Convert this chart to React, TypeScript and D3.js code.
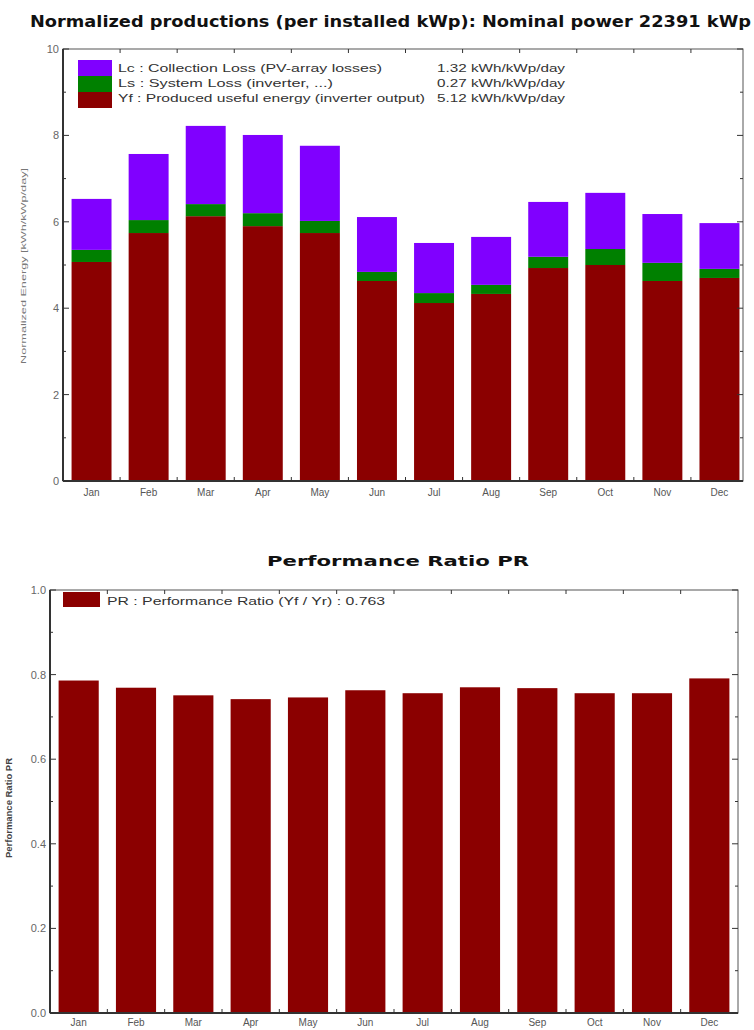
import React from 'react';
import * as d3 from 'd3';

const months = ['Jan', 'Feb', 'Mar', 'Apr', 'May', 'Jun', 'Jul', 'Aug', 'Sep', 'Oct', 'Nov', 'Dec'];

// normalized energies, kWh/kWp/day
const yfValues = [5.07, 5.74, 6.13, 5.9, 5.74, 4.63, 4.12, 4.33, 4.93, 5.0, 4.63, 4.7];
const lsValues = [0.28, 0.3, 0.28, 0.3, 0.28, 0.21, 0.23, 0.21, 0.26, 0.37, 0.42, 0.21];
const lcValues = [1.18, 1.53, 1.81, 1.81, 1.74, 1.27, 1.16, 1.11, 1.27, 1.3, 1.13, 1.06];

const prValues = [0.786, 0.769, 0.751, 0.742, 0.746, 0.763, 0.756, 0.77, 0.768, 0.756, 0.756, 0.791];

const energyLegend = [
  { key: 'lc', label: 'Lc : Collection Loss (PV-array losses)', value: '1.32 kWh/kWp/day', color: '#8000ff', w: 264 },
  { key: 'ls', label: 'Ls : System Loss  (inverter, ...)', value: '0.27 kWh/kWp/day', color: '#008000', w: 215 },
  { key: 'yf', label: 'Yf : Produced useful energy  (inverter output)', value: '5.12 kWh/kWp/day', color: '#8b0000', w: 307 },
];
const prLegend = 'PR : Performance Ratio (Yf / Yr) :  0.763';

const energyTicks = [0, 2, 4, 6, 8, 10];
const prTicks = [0, 0.2, 0.4, 0.6, 0.8, 1.0];

const W = 754;
const H = 1030;
const axisColor = '#333';
const labelColor = '#666';
const font = "'Liberation Sans', Arial, sans-serif";

type FrameProps = {
  x: d3.ScaleBand<string>;
  y: d3.ScaleLinear<number, number>;
  left: number;
  right: number;
  major: number[];
  minor: number[];
  fmt: (v: number) => string;
  labelGap: number;
};

const Frame = ({ x, y, left, right, major, minor, fmt, labelGap }: FrameProps) => {
  const [y0, y1] = [y.range()[0], y.range()[1]];
  const bounds = months.slice(1).map(m => (x(m) as number) - (x.step() * x.paddingInner()) / 2);
  return (
    <g>
      <rect x={left} y={y1} width={right - left} height={y0 - y1} fill="none" stroke="#555" strokeWidth={1} />
      <line x1={left} x2={left} y1={y1} y2={y0} stroke={axisColor} strokeWidth={2} />
      <line x1={left} x2={right} y1={y0} y2={y0} stroke={axisColor} strokeWidth={2} />
      {minor.map(v => (
        <g key={'mi' + v}>
          <line x1={left} x2={left + 3} y1={y(v)} y2={y(v)} stroke={axisColor} />
          <line x1={right} x2={right - 3} y1={y(v)} y2={y(v)} stroke={axisColor} />
        </g>
      ))}
      {major.map(v => (
        <g key={'ma' + v}>
          <line x1={left} x2={left + 6} y1={y(v)} y2={y(v)} stroke={axisColor} />
          <line x1={right} x2={right - 6} y1={y(v)} y2={y(v)} stroke={axisColor} />
          <text x={left - 4} y={y(v) + 4} textAnchor="end" fontSize={11} fill={labelColor} fontFamily={font}>
            {fmt(v)}
          </text>
        </g>
      ))}
      {bounds.map((b, i) => (
        <g key={'b' + i}>
          <line x1={b} x2={b} y1={y0} y2={y0 - 4} stroke={axisColor} />
          <line x1={b} x2={b} y1={y1} y2={y1 + 4} stroke={axisColor} />
        </g>
      ))}
      {months.map(m => (
        <text key={m} x={(x(m) as number) + x.bandwidth() / 2} y={y0 + labelGap} textAnchor="middle" fontSize={10} fill="#555" fontFamily={font}>
          {m}
        </text>
      ))}
    </g>
  );
};

export default function App() {
  // top chart: normalized productions
  const topX = d3.scaleBand<string>().domain(months).range([63, 748]).paddingInner(0.3).paddingOuter(0.15);
  const topY = d3.scaleLinear().domain([0, 10]).range([481, 49]);
  const rows = months.map((m, i) => ({ month: m, yf: yfValues[i], ls: lsValues[i], lc: lcValues[i] }));
  const stacked = d3.stack<any>().keys(['yf', 'ls', 'lc'])(rows);
  const colorOf: Record<string, string> = { yf: '#8b0000', ls: '#008000', lc: '#8000ff' };

  // bottom chart: performance ratio
  const botX = d3.scaleBand<string>().domain(months).range([50, 738]).paddingInner(0.3).paddingOuter(0.15);
  const botY = d3.scaleLinear().domain([0, 1]).range([1013, 590]);

  return (
    <svg width={W} height={H} style={{ position: 'absolute', left: 0, top: 0, background: '#fff' }} fontFamily={font}>
      <text x={30} y={27} fontSize={15.5} fontWeight="bold" fill="#111" fontFamily="'DejaVu Sans', sans-serif" textLength={721} lengthAdjust="spacingAndGlyphs">
        Normalized productions (per installed kWp):  Nominal power 22391 kWp
      </text>

      {stacked.map(layer => (
        <g key={layer.key} fill={colorOf[layer.key]}>
          {layer.map((d, i) => (
            <rect key={i} x={topX(months[i])} y={topY(d[1])} width={topX.bandwidth()} height={topY(d[0]) - topY(d[1])} />
          ))}
        </g>
      ))}
      <Frame x={topX} y={topY} left={63} right={743} major={energyTicks} minor={[1, 3, 5, 7, 9]} fmt={v => String(v)} labelGap={15} />
      <text transform="translate(26,266) rotate(-90)" textAnchor="middle" fontSize={8} fill="#777" textLength={196} lengthAdjust="spacingAndGlyphs">
        Normalized Energy [kWh/kWp/day]
      </text>
      {energyLegend.map((l, i) => (
        <g key={l.key}>
          <rect x={78} y={60 + i * 16} width={34} height={16} fill={l.color} />
          <text x={118} y={72 + i * 15} fontSize={10.5} fill="#333" textLength={l.w} lengthAdjust="spacingAndGlyphs">{l.label}</text>
          <text x={437} y={72 + i * 15} fontSize={10.5} fill="#333" textLength={128} lengthAdjust="spacingAndGlyphs">{l.value}</text>
        </g>
      ))}

      <text x={398} y={566} textAnchor="middle" fontSize={14} fontWeight="bold" fill="#111" fontFamily="'DejaVu Sans', sans-serif" textLength={262} lengthAdjust="spacingAndGlyphs">
        Performance Ratio PR
      </text>
      <g fill="#8b0000">
        {prValues.map((v, i) => (
          <rect key={i} x={botX(months[i])} y={botY(v)} width={botX.bandwidth()} height={botY(0) - botY(v)} />
        ))}
      </g>
      <Frame x={botX} y={botY} left={50} right={738} major={prTicks} minor={[0.1, 0.3, 0.5, 0.7, 0.9]} fmt={d3.format('.1f')} labelGap={13} />
      <text transform="translate(12,808) rotate(-90)" textAnchor="middle" fontSize={9} fontWeight="bold" fill="#444" textLength={100} lengthAdjust="spacingAndGlyphs">
        Performance Ratio PR
      </text>
      <rect x={63} y={592} width={37} height={15} fill="#8b0000" />
      <text x={107} y={605} fontSize={10} fill="#333" textLength={278} lengthAdjust="spacingAndGlyphs">{prLegend}</text>
    </svg>
  );
}
